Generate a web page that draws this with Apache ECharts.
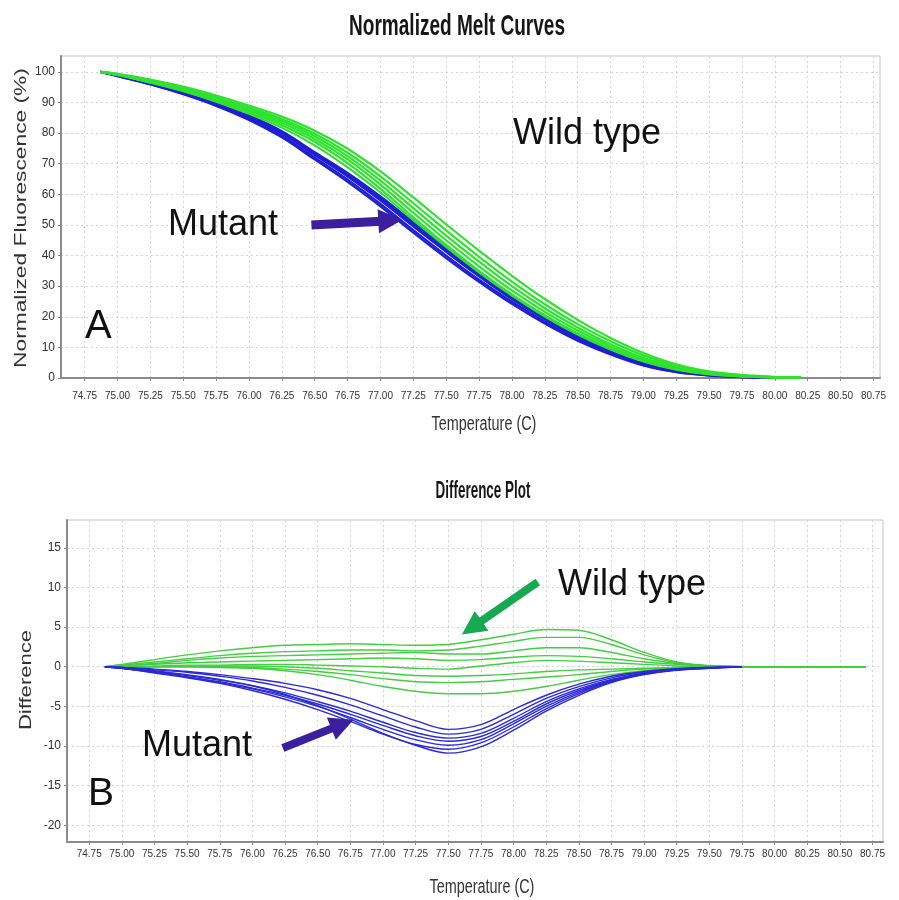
<!DOCTYPE html>
<html>
<head>
<meta charset="utf-8">
<script src="https://cdn.jsdelivr.net/npm/echarts@6/dist/echarts.min.js"></script>
<style>
  html, body { margin: 0; padding: 0; background: #fff; }
  #chart { width: 899px; height: 900px; }
</style>
</head>
<body>
<div id="chart"></div>
<script>
// Temperature grid (°C) for the normalized melt curves
const meltTemps = [74.87, 75.0, 75.25, 75.5, 75.75, 76.0, 76.25, 76.5, 76.75, 77.0, 77.25, 77.5,
  77.75, 78.0, 78.25, 78.5, 78.75, 79.0, 79.25, 79.5, 79.75, 80.0, 80.2];

// Normalized fluorescence (%) – mutant samples
const mutant1 = [100, 98.9, 96.4, 93.5, 90.0, 85.8, 80.6, 73.8, 67.0, 59.3, 50.9, 42.6, 34.5, 27.0, 20.2, 14.0, 9.0, 5.0, 2.4, 1.1, 0.4, 0.1, null];
const mutant2 = [100, 98.8, 96.2, 93.2, 89.6, 85.2, 79.8, 72.8, 65.8, 58.0, 49.5, 41.2, 33.2, 25.8, 19.2, 13.2, 8.4, 4.6, 2.2, 1.0, 0.4, 0.1, null];
const mutant3 = [100, 98.7, 96.0, 92.9, 89.2, 84.7, 79.1, 72.0, 64.8, 56.9, 48.3, 40.0, 32.1, 24.9, 18.4, 12.6, 8.0, 4.3, 2.0, 0.9, 0.3, 0.1, null];
const mutant4 = [100, 98.6, 95.9, 92.7, 88.9, 84.3, 78.6, 71.4, 64.1, 56.1, 47.5, 39.2, 31.4, 24.2, 17.8, 12.2, 7.7, 4.1, 1.9, 0.8, 0.3, 0.1, null];
const mutant5 = [100, 98.8, 96.3, 93.4, 89.8, 85.5, 80.2, 73.3, 66.4, 58.7, 50.2, 41.9, 33.9, 26.4, 19.7, 13.6, 8.7, 4.8, 2.3, 1.0, 0.4, 0.1, null];

// Normalized fluorescence (%) – wild type samples
const wild1 = [100, 99.4, 97.5, 95.2, 92.3, 89.0, 85.4, 80.8, 74.9, 67.5, 59.0, 50.2, 41.6, 33.4, 25.8, 19.0, 13.1, 8.2, 4.5, 2.2, 1.0, 0.4, 0.1];
const wild2 = [100, 99.3, 97.2, 94.8, 91.8, 88.4, 84.6, 79.8, 73.6, 65.9, 57.1, 48.2, 39.6, 31.5, 24.1, 17.6, 12.0, 7.4, 4.0, 1.9, 0.8, 0.3, 0.1];
const wild3 = [100, 99.2, 97.0, 94.5, 91.3, 87.8, 84.0, 79.0, 72.5, 64.5, 55.5, 46.5, 38.0, 30.0, 22.8, 16.5, 11.0, 6.6, 3.5, 1.6, 0.7, 0.3, 0.1];
const wild4 = [100, 99.1, 96.8, 94.2, 91.0, 87.3, 83.3, 78.1, 71.4, 63.2, 54.0, 45.0, 36.5, 28.6, 21.6, 15.5, 10.3, 6.1, 3.2, 1.5, 0.6, 0.2, 0.1];
const wild5 = [100, 99.0, 96.6, 93.9, 90.6, 86.8, 82.6, 77.2, 70.2, 61.8, 52.5, 43.5, 35.0, 27.3, 20.5, 14.6, 9.6, 5.6, 2.9, 1.3, 0.5, 0.2, 0.1];
const wild6 = [100, 99.0, 96.5, 93.7, 90.3, 86.3, 81.8, 76.0, 68.8, 60.6, 51.6, 42.8, 34.5, 26.9, 20.1, 14.2, 9.3, 5.4, 2.7, 1.2, 0.5, 0.2, 0.1];

// Temperature grid (°C) for the difference plot
const diffTemps = [74.87, 75.0, 75.25, 75.5, 75.75, 76.0, 76.25, 76.5, 76.75, 77.0, 77.25, 77.5,
  77.75, 78.0, 78.25, 78.5, 78.75, 79.0, 79.25, 79.5, 79.75, 80.0, 80.25, 80.5, 80.7];

// Difference – wild type samples
const wildDiff1 = [0, 0.3, 0.9, 1.5, 2.0, 2.4, 2.7, 2.8, 2.9, 2.8, 2.7, 2.8, 3.4, 4.1, 4.7, 4.6, 3.4, 1.8, 0.6, 0.15, 0.05, 0, 0, 0, 0];
const wildDiff2 = [0, 0.2, 0.6, 1.0, 1.4, 1.7, 1.9, 2.0, 2.1, 2.1, 2.0, 2.1, 2.6, 3.2, 3.7, 3.7, 2.8, 1.5, 0.5, 0.1, 0, 0, 0, 0, 0];
const wildDiff3 = [0, 0.1, 0.4, 0.8, 1.1, 1.3, 1.4, 1.5, 1.6, 1.7, 1.8, 1.6, 1.6, 2.0, 2.4, 2.4, 1.8, 1.0, 0.4, 0.1, 0, 0, 0, 0, 0];
const wildDiff4 = [0, 0.1, 0.3, 0.5, 0.6, 0.7, 0.8, 0.9, 1.0, 1.1, 1.0, 0.8, 0.9, 1.2, 1.4, 1.3, 1.0, 0.6, 0.3, 0.1, 0, 0, 0, 0, 0];
const wildDiff5 = [0, 0, 0.1, 0.2, 0.2, 0.3, 0.3, 0.2, 0.1, 0, -0.2, -0.3, 0.1, 0.5, 0.8, 0.7, 0.5, 0.3, 0.1, 0, 0, 0, 0, 0, 0];
const wildDiff6 = [0, 0, 0, 0.1, 0.1, 0.1, 0, -0.2, -0.5, -0.8, -1.1, -1.2, -1.1, -0.9, -0.6, -0.4, -0.3, -0.2, -0.1, 0, 0, 0, 0, 0, 0];
const wildDiff7 = [0, 0, 0, 0, 0, -0.1, -0.3, -0.6, -1.0, -1.5, -1.9, -2.0, -1.9, -1.6, -1.3, -1.0, -0.6, -0.3, -0.1, 0, 0, 0, 0, 0, 0];
const wildDiff8 = [0, 0, 0, 0, -0.1, -0.2, -0.5, -1.0, -1.7, -2.5, -3.1, -3.4, -3.4, -3.1, -2.5, -1.7, -1.0, -0.5, -0.2, -0.05, 0, 0, 0, 0, 0];

// Difference – mutant samples
const mutDiff1 = [0, -0.1, -0.3, -0.6, -1.0, -1.5, -2.1, -2.9, -4.0, -5.4, -6.8, -7.9, -7.3, -5.4, -3.6, -2.2, -1.2, -0.6, -0.25, -0.1, 0, null, null, null, null];
const mutDiff2 = [0, -0.1, -0.4, -0.7, -1.2, -1.8, -2.6, -3.6, -4.8, -6.2, -7.6, -8.5, -7.9, -6.0, -4.0, -2.5, -1.4, -0.7, -0.3, -0.1, 0, null, null, null, null];
const mutDiff3 = [0, -0.2, -0.6, -1.1, -1.7, -2.4, -3.3, -4.4, -5.6, -7.0, -8.3, -9.0, -8.4, -6.5, -4.4, -2.8, -1.6, -0.8, -0.35, -0.15, 0, null, null, null, null];
const mutDiff4 = [0, -0.2, -0.7, -1.3, -1.9, -2.7, -3.6, -4.7, -6.0, -7.4, -8.7, -9.4, -8.8, -6.9, -4.7, -3.0, -1.7, -0.85, -0.35, -0.15, 0, null, null, null, null];
const mutDiff5 = [0, -0.2, -0.7, -1.3, -2.0, -2.8, -3.8, -5.0, -6.4, -7.9, -9.2, -9.9, -9.2, -7.2, -5.0, -3.2, -1.8, -0.9, -0.4, -0.15, 0, null, null, null, null];
const mutDiff6 = [0, -0.2, -0.8, -1.4, -2.1, -3.0, -4.1, -5.4, -6.9, -8.5, -9.8, -10.4, -9.6, -7.6, -5.3, -3.4, -1.9, -0.95, -0.4, -0.2, 0, null, null, null, null];
const mutDiff7 = [0, -0.1, -0.5, -1.0, -1.6, -2.4, -3.5, -4.9, -6.6, -8.4, -9.9, -10.9, -10.1, -8.0, -5.6, -3.6, -2.0, -1.0, -0.45, -0.2, 0, null, null, null, null];

// Axis tick values
const tempTicks = [74.75, 75.0, 75.25, 75.5, 75.75, 76.0, 76.25, 76.5, 76.75, 77.0, 77.25, 77.5, 77.75,
  78.0, 78.25, 78.5, 78.75, 79.0, 79.25, 79.5, 79.75, 80.0, 80.25, 80.5, 80.75];
const fluorTicks = [0, 10, 20, 30, 40, 50, 60, 70, 80, 90, 100];
const diffTicks = [-20, -15, -10, -5, 0, 5, 10, 15];

// Annotation arrows, in data units: [start, end]
const mutantArrowTop = [[76.475, 50.0], [77.075, 51.4]];
const wildArrowBottom = [[78.186, 10.68], [77.68, 4.92]];
const mutantArrowBottom = [[76.233, -10.25], [76.69, -7.24]];

const GREEN_TOP = '#2fe22f';
const BLUE_TOP = '#1e1ed2';
const GREEN_DIFF = '#44cc44';
const BLUE_DIFF = '#2a2ad4';
const ARROW_PURPLE = '#3c1f9e';
const ARROW_GREEN = '#17a852';
const SANS = '"Liberation Sans", Arial, sans-serif';

function pairs(xs, ys) {
  const out = [];
  xs.forEach((x, i) => { if (ys[i] !== null) out.push([x, ys[i]]); });
  return out;
}

function lineSeries(xs, ys, color, width, axisIdx, z) {
  return {
    type: 'line', xAxisIndex: axisIdx, yAxisIndex: axisIdx,
    data: pairs(xs, ys), smooth: 0.35, showSymbol: false, symbol: 'none',
    lineStyle: { color: color, width: width }, z: z, silent: true
  };
}

function arrowSeries(coords, color, axisIdx, width, head) {
  return {
    type: 'lines', coordinateSystem: 'cartesian2d', xAxisIndex: axisIdx, yAxisIndex: axisIdx,
    symbol: ['none', 'triangle'], symbolSize: head, z: 10, silent: true,
    lineStyle: { color: color, width: width, opacity: 1, curveness: 0 },
    data: [{ coords: coords }]
  };
}

const xAxisCommon = {
  type: 'value', min: 74.57, max: 80.8,
  axisLine: { show: true, onZero: false, lineStyle: { color: '#8a8a8a', width: 2 } },
  axisTick: { show: true, customValues: tempTicks, length: 3, lineStyle: { color: '#888' } },
  axisLabel: { customValues: tempTicks, formatter: v => v.toFixed(2), color: '#333',
    fontFamily: SANS, fontSize: 10 },
  splitLine: { show: true, lineStyle: { color: '#d4d4d4', type: [2, 3], width: 1 } }
};

const series = [];
[mutant1, mutant2, mutant3, mutant4, mutant5].forEach(v => series.push(lineSeries(meltTemps, v, BLUE_TOP, 2.2, 0, 2)));
[wild1, wild2, wild3, wild4, wild5, wild6].forEach(v => series.push(lineSeries(meltTemps, v, GREEN_TOP, 2.2, 0, 3)));
[wildDiff1, wildDiff2, wildDiff3, wildDiff4, wildDiff5, wildDiff6, wildDiff7, wildDiff8].forEach(v => series.push(lineSeries(diffTemps, v, GREEN_DIFF, 1.4, 1, 2)));
[mutDiff1, mutDiff2, mutDiff3, mutDiff4, mutDiff5, mutDiff6, mutDiff7].forEach(v => series.push(lineSeries(diffTemps, v, BLUE_DIFF, 1.4, 1, 3)));
series.push(arrowSeries(mutantArrowTop, ARROW_PURPLE, 0, 9, 24));
series.push(arrowSeries(wildArrowBottom, ARROW_GREEN, 1, 8, 24));
series.push(arrowSeries(mutantArrowBottom, ARROW_PURPLE, 1, 8, 24));

// Free-standing text: annotations in plain Arial-style type
function label(text, x, y, size) {
  return { type: 'text', x: x, y: y, z: 20,
    style: { text: text, font: size + 'px ' + SANS, fill: '#111', align: 'left', verticalAlign: 'middle' } };
}

// Condensed text (titles and axis names), squeezed along the text direction
function condensed(text, x, y, size, squeeze, opts) {
  const o = opts || {};
  return { type: 'text', x: x, y: y, z: 20,
    rotation: o.rotation || 0, scaleX: squeeze,
    style: { text: text, font: (o.weight || 'normal') + ' ' + size + 'px ' + SANS,
      fill: o.fill || '#333', align: 'center', verticalAlign: 'middle' } };
}

const option = {
  animation: false,
  backgroundColor: '#fff',
  grid: [
    { left: 61, right: 19, top: 56, bottom: 522, show: true, borderColor: '#c4c4c4', borderWidth: 1, backgroundColor: 'transparent' },
    { left: 67, right: 16, top: 520, bottom: 58, show: true, borderColor: '#c4c4c4', borderWidth: 1, backgroundColor: 'transparent' }
  ],
  xAxis: [
    Object.assign({ gridIndex: 0 }, xAxisCommon, { axisLabel: Object.assign({}, xAxisCommon.axisLabel, { margin: 13 }) }),
    Object.assign({ gridIndex: 1 }, xAxisCommon, { min: 74.58, max: 80.83, axisLabel: Object.assign({}, xAxisCommon.axisLabel, { margin: 7 }) })
  ],
  yAxis: [
    { gridIndex: 0, type: 'value', min: 0, max: 105.2,
      axisLine: { show: true, lineStyle: { color: '#8a8a8a', width: 2 } },
      axisTick: { show: true, customValues: fluorTicks, length: 3, lineStyle: { color: '#888' } },
      axisLabel: { customValues: fluorTicks, color: '#333', fontFamily: SANS, fontSize: 12, margin: 6 },
      splitLine: { show: true, lineStyle: { color: '#d4d4d4', type: [2, 3], width: 1 } } },
    { gridIndex: 1, type: 'value', min: -22.1, max: 18.5,
      axisLine: { show: true, onZero: false, lineStyle: { color: '#8a8a8a', width: 2 } },
      axisTick: { show: true, customValues: diffTicks, length: 3, lineStyle: { color: '#888' } },
      axisLabel: { customValues: diffTicks, color: '#333', fontFamily: SANS, fontSize: 12, margin: 6 },
      splitLine: { show: true, lineStyle: { color: '#d4d4d4', type: [2, 3], width: 1 } } }
  ],
  graphic: [
    condensed('Normalized Melt Curves', 457, 27, 30, 0.635, { weight: 'bold', fill: '#161616' }),
    condensed('Difference Plot', 483, 491, 24, 0.56, { weight: 'bold', fill: '#161616' }),
    condensed('Normalized Fluorescence (%)', 21, 218, 16.5, 1.38, { rotation: Math.PI / 2 }),
    condensed('Difference', 27, 680, 16, 1.38, { rotation: Math.PI / 2 }),
    condensed('Temperature (C)', 484, 424, 20, 0.72),
    condensed('Temperature (C)', 482, 887, 20, 0.72),
    label('Wild type', 513, 134, 36),
    label('Mutant', 168, 225, 36),
    label('A', 85, 327, 40),
    label('Wild type', 558, 585, 36),
    label('Mutant', 142, 746, 36),
    label('B', 88, 794, 39)
  ],
  series: series
};

const chart = echarts.init(document.getElementById('chart'), null, { renderer: 'canvas' });
chart.setOption(option);
</script>
</body>
</html>
